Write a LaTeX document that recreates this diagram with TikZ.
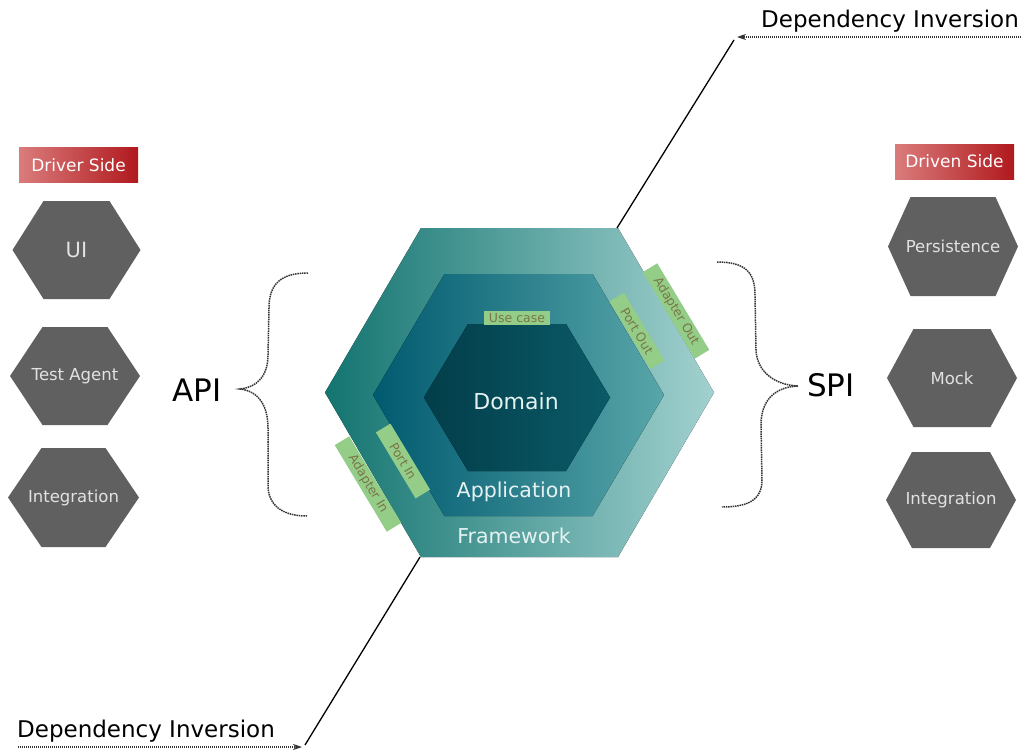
\documentclass[tikz,border=0pt]{standalone}
\usepackage{fontspec}
\setmainfont{DejaVu Sans}
\definecolor{hexgrey}{HTML}{606060}
\definecolor{hexlabel}{HTML}{E2E2E2}
\definecolor{redlight}{HTML}{DA7C7C}
\definecolor{reddark}{HTML}{B0191D}
\definecolor{frameleft}{HTML}{137470}
\definecolor{framemid}{HTML}{3A9292}
\definecolor{frameright}{HTML}{A2D1CF}
\definecolor{appleft}{HTML}{005A6F}
\definecolor{appmid}{HTML}{066676}
\definecolor{appright}{HTML}{58A6A9}
\definecolor{domleft}{HTML}{023E4A}
\definecolor{domright}{HTML}{0B5A67}
\definecolor{taggreen}{HTML}{94CD88}
\definecolor{tagtext}{HTML}{7A7645}
\definecolor{ringtext}{HTML}{E6F2F2}
\definecolor{dotgrey}{HTML}{333333}
\usepackage{tikz}
\usetikzlibrary{arrows.meta}
\usetikzlibrary{positioning}
% hexagon with flat top: centre x, centre y, half width, half top edge, half height
\newcommand*{\hexagonpath}[5]{(#1-#3,#2) -- (#1-#4,#2-#5) -- (#1+#4,#2-#5) -- (#1+#3,#2) -- (#1+#4,#2+#5) -- (#1-#4,#2+#5) -- cycle}
\tikzstyle{base}=[x=1pt, y=-1pt, inner sep=0pt, outer sep=0pt]
\tikzstyle{hexlbl}=[text=hexlabel, font=\fontsize{16.5}{18}\selectfont]
\tikzstyle{sidebox}=[left color=redlight, right color=reddark, text=white, minimum width=119pt, minimum height=35pt, font=\fontsize{17}{19}\selectfont]
\tikzstyle{tag}=[fill=taggreen, text=tagtext, font=\fontsize{12.5}{13}\selectfont, minimum height=17pt, rotate=-59]
\tikzstyle{ring}=[text=ringtext, font=\fontsize{20.5}{22}\selectfont]
\tikzstyle{curly}=[dotgrey, line width=1.5pt, dash pattern=on 1.5pt off 0.8pt]
\tikzstyle{note}=[font=\fontsize{23}{25}\selectfont]
\tikzstyle{inversion}=[dotgrey, line width=1.2pt, dash pattern=on 1.2pt off 0.8pt, -{Stealth[length=9pt, width=6pt]}]

\begin{document}
\begin{tikzpicture}[base]
    \useasboundingbox (0,0) rectangle (1021,750);
    % driver side
    \node [sidebox] (driver) at (78.5,165) {Driver Side};
    \fill [hexgrey] \hexagonpath{76.5}{250}{64}{33}{49};
    \fill [hexgrey] \hexagonpath{75}{376}{65}{32.5}{49};
    \fill [hexgrey] \hexagonpath{73.5}{497.5}{65.5}{32}{49.5};
    \node [hexlbl, font=\fontsize{21}{23}\selectfont] (ui) at (76.5,250) {UI};
    \node [hexlbl] (testagent) at (75,376) {Test Agent};
    \node [hexlbl] (integrationin) at (73.5,497.5) {Integration};
    % driven side
    \node [sidebox] (driven) at (954.5,161.5) {Driven Side};
    \fill [hexgrey] \hexagonpath{953}{246.5}{65}{42.5}{49.5};
    \fill [hexgrey] \hexagonpath{952}{378}{65}{38.5}{49};
    \fill [hexgrey] \hexagonpath{951}{500}{65}{39}{48};
    \node [hexlbl] (persistence) at (953,246.5) {Persistence};
    \node [hexlbl] (mock) at (952,378) {Mock};
    \node [hexlbl] (integrationout) at (951,500) {Integration};
    % the three rings
    \fill [left color=frameleft, middle color=framemid, right color=frameright] \hexagonpath{519.5}{392.5}{194.5}{98.5}{164.5};
    \fill [left color=appleft, middle color=appmid, right color=appright] \hexagonpath{518.5}{395}{145.5}{74}{121};
    \fill [left color=domleft, right color=domright] \hexagonpath{517}{397.5}{93}{49}{73.5};
    \coordinate (fwtopright) at (617,228);
    \coordinate (fwbottomleft) at (420,557);
    \node [ring, font=\fontsize{22}{24}\selectfont] (domain) at (516,401) {Domain};
    \node [ring] (application) at (514,492) {Application};
    \node [ring] (framework) at (514,536) {Framework};
    \node [tag, rotate=59, minimum width=66pt, minimum height=14pt] (usecase) at (517,318) {Use case};
    \node [tag, minimum width=79pt] (portout) at (637,331) {Port Out};
    \node [tag, minimum width=101pt] (adapterout) at (676,311) {Adapter Out};
    \node [tag, minimum width=77pt] (portin) at (403,461) {Port In};
    \node [tag, minimum width=101pt] (adapterin) at (368,484) {Adapter In};
    % api / spi with their braces
    \node [font=\fontsize{31}{33}\selectfont] (api) at (197,390) {API};
    \node [font=\fontsize{31}{33}\selectfont] (spi) at (831,385) {SPI};
    \draw [curly] (308,273) .. controls (282,273) and (269,283) .. (269,308) -- (268,355)
        .. controls (268,375) and (258,387) .. (240,389) .. controls (258,391) and (268,405) .. (268,428)
        -- (268,485) .. controls (268,505) and (282,516) .. (307,516);
    \draw [curly] (717,262) .. controls (745,262) and (755,272) .. (755,295) -- (756,350)
        .. controls (757,372) and (775,385) .. (798,386) .. controls (775,387) and (761,400) .. (761,425)
        -- (762,480) .. controls (762,500) and (748,507) .. (722,507);
    % dependency inversion
    \node [note] (ditop) at (890,21) {Dependency Inversion};
    \node [note] (dibottom) at (146,731) {Dependency Inversion};
    \coordinate (ditopstart) at (1021,37);
    \coordinate (ditoptip) at (737,37);
    \coordinate (dibottomstart) at (18,747);
    \coordinate (dibottomtip) at (302,747);
    \draw [inversion] (ditopstart) -- (ditoptip);
    \draw [inversion] (dibottomstart) -- (dibottomtip);
    \draw [line width=1.3pt] (fwtopright) -- (734,40);
    \draw [line width=1.3pt] (fwbottomleft) -- (305,745);
\end{tikzpicture}
\end{document}
